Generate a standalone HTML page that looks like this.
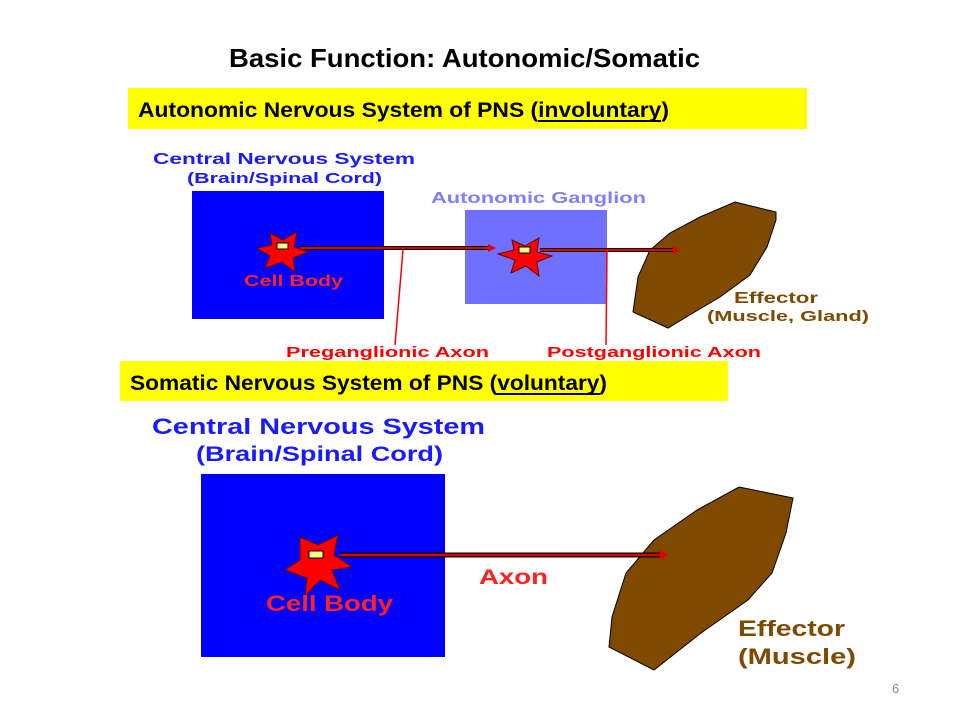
<!DOCTYPE html>
<html><head><meta charset="utf-8"><style>html,body{margin:0;padding:0;background:#fff}svg{display:block}</style></head>
<body>
<svg width="960" height="720" viewBox="0 0 960 720" xmlns="http://www.w3.org/2000/svg" font-family="Liberation Sans, sans-serif" font-weight="bold">
<rect width="960" height="720" fill="#fff"/>
<text x="229" y="67" font-size="26" textLength="471" lengthAdjust="spacingAndGlyphs" fill="#000">Basic Function: Autonomic/Somatic</text>
<rect x="128" y="88" width="679" height="41" fill="#ffff00"/>
<text x="138" y="117" font-size="21" textLength="531" lengthAdjust="spacingAndGlyphs" fill="#000">Autonomic Nervous System of PNS (involuntary)</text>
<line x1="538" y1="121" x2="661" y2="121" stroke="#000" stroke-width="2"/>
<rect x="120" y="361" width="608" height="40" fill="#ffff00"/>
<text x="130" y="390" font-size="21" textLength="477" lengthAdjust="spacingAndGlyphs" fill="#000">Somatic Nervous System of PNS (voluntary)</text>
<line x1="495" y1="394" x2="600" y2="394" stroke="#000" stroke-width="2"/>

<!-- top diagram -->
<rect x="192" y="191" width="192" height="128" fill="#0000ff"/>
<rect x="465" y="210" width="142" height="94" fill="#7070ff"/>
<polygon points="735,202 776,212 776,220 767,247 750,275 720,297 693,313 668,328 633,312 638,277 650,250 670,233 700,217" fill="#7f4a00" stroke="#000" stroke-width="1"/>
<text x="153" y="164" font-size="16" textLength="262" lengthAdjust="spacingAndGlyphs" fill="#1a1aff">Central Nervous System</text>
<text x="187" y="183" font-size="15" textLength="195" lengthAdjust="spacingAndGlyphs" fill="#1a1aff">(Brain/Spinal Cord)</text>
<text x="431" y="203" font-size="16" textLength="215" lengthAdjust="spacingAndGlyphs" fill="#8080ff">Autonomic Ganglion</text>
<line x1="300" y1="248" x2="490" y2="248" stroke="#000" stroke-width="4"/>
<line x1="300" y1="248" x2="490" y2="248" stroke="#e00000" stroke-width="2"/>
<polygon points="488,244 496,248 488,252" fill="#e00000"/>
<line x1="540" y1="250" x2="675" y2="250" stroke="#000" stroke-width="4"/>
<line x1="540" y1="250" x2="675" y2="250" stroke="#e00000" stroke-width="2"/>
<polygon points="673,246 681,250 673,254" fill="#e00000"/>
<polygon points="270,233 283,240 297,232 294,247 308,252 293,258 295,272 282,262 265,268 270,256 257,248 272,245" fill="#ff0000" stroke="#600" stroke-width="1"/>
<rect x="277" y="243" width="11" height="6" fill="#ffff80" stroke="#000"/>
<polygon points="512,240 525,246 539,238 537,252 552,256 537,262 539,276 526,266 511,273 515,260 498,254 514,250" fill="#ff0000" stroke="#600" stroke-width="1"/>
<rect x="519" y="247" width="11" height="6" fill="#ffff80" stroke="#000"/>
<polyline points="403,250 395,345" stroke="#ff0000" stroke-width="1.5" fill="none"/>
<polyline points="607,250 606,345" stroke="#ff0000" stroke-width="1.5" fill="none"/>
<text x="244" y="286" font-size="16" textLength="99" lengthAdjust="spacingAndGlyphs" fill="#ff2020">Cell Body</text>
<text x="734" y="303" font-size="16" textLength="84" lengthAdjust="spacingAndGlyphs" fill="#7f4a00">Effector</text>
<text x="707" y="321" font-size="15" textLength="162" lengthAdjust="spacingAndGlyphs" fill="#7f4a00">(Muscle, Gland)</text>
<text x="286" y="357" font-size="15" textLength="203" lengthAdjust="spacingAndGlyphs" fill="#ff0000">Preganglionic Axon</text>
<text x="547" y="357" font-size="15" textLength="214" lengthAdjust="spacingAndGlyphs" fill="#ff0000">Postganglionic Axon</text>

<!-- bottom diagram -->
<text x="152" y="434" font-size="22" textLength="333" lengthAdjust="spacingAndGlyphs" fill="#1a1aff">Central Nervous System</text>
<text x="196" y="461" font-size="21" textLength="247" lengthAdjust="spacingAndGlyphs" fill="#1a1aff">(Brain/Spinal Cord)</text>
<rect x="201" y="474" width="244" height="183" fill="#0000ff"/>
<polygon points="739,487 793,498 786,533 772,573 748,600 701,633 654,670 609,647 612,617 626,573 654,540 697,510" fill="#7f4a00" stroke="#000" stroke-width="1"/>
<line x1="340" y1="555" x2="662" y2="555" stroke="#000" stroke-width="5"/>
<line x1="340" y1="555" x2="662" y2="555" stroke="#e00000" stroke-width="2.5"/>
<polygon points="660,550 668,555 660,560" fill="#e00000"/>
<polygon points="300,537 318,545 338,535 334,555 352,567 332,570 340,590 320,580 305,596 307,578 285,570 300,560" fill="#ff0000" stroke="#600" stroke-width="1"/>
<rect x="309" y="551" width="14" height="7" fill="#ffff80" stroke="#000"/>
<text x="479" y="584" font-size="21" textLength="69" lengthAdjust="spacingAndGlyphs" fill="#ff2020">Axon</text>
<text x="266" y="611" font-size="22" textLength="127" lengthAdjust="spacingAndGlyphs" fill="#ff2020">Cell Body</text>
<text x="738" y="636" font-size="22" textLength="107" lengthAdjust="spacingAndGlyphs" fill="#7f4a00">Effector</text>
<text x="738" y="664" font-size="22" textLength="118" lengthAdjust="spacingAndGlyphs" fill="#7f4a00">(Muscle)</text>
<text x="892" y="693" font-size="13" font-weight="normal" fill="#888">6</text>
</svg>
</body></html>
